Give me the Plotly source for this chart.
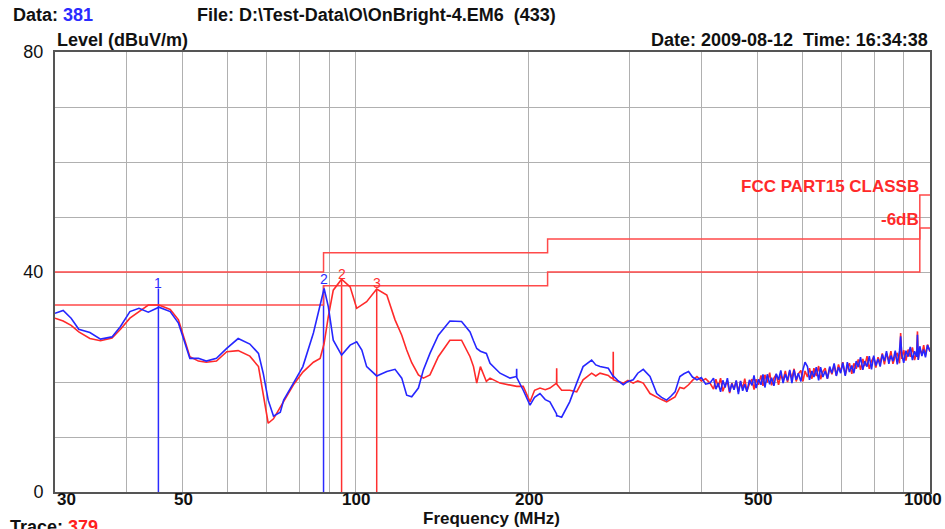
import math
import plotly.graph_objects as go

# ---------------- data ----------------
freq_lo = [30, 31, 32, 33, 34.5, 36, 37.7, 39, 40.5, 42, 43.6, 45.5, 47.6, 49.2, 50.2, 51.5,
           53.3, 55, 57.3, 59.7, 62.5, 65.5, 67.8, 69.1, 70.5, 72, 74, 75, 78, 81, 84.5, 86.8,
           88.2, 89.7, 91.5, 94.6, 97.9, 100.5, 102.6, 104.6, 108.9, 113.4, 117.2, 120.4,
           122.8, 125.3, 128.7, 131.3, 134.8, 139.4, 146, 153, 158.3, 160.5, 162.6, 165,
           169, 171.5, 178.5, 185.8, 190.7, 190.8, 190.9, 195.9, 201.3, 205, 209.5, 214,
           218, 223.9, 224, 224.1, 228.5, 236, 242.7, 249, 257.7, 262, 266.5, 275.5, 278,
           280.9, 281, 281.1, 286, 292.5, 298, 304.4, 310, 316.9, 325.6, 334.5, 341, 348,
           354, 360, 367, 373, 380, 386, 393, 400, 407, 414]

blue_lo = [32.5, 33.0, 31.6, 29.6, 29.0, 27.8, 28.2, 30.1, 32.8, 33.4, 32.7, 33.6, 32.8, 30.7,
           27.9, 24.3, 24.3, 23.8, 24.3, 26.1, 27.9, 26.9, 25.2, 21.6, 16.7, 13.8, 14.5, 16.7,
           19.8, 22.8, 28.9, 33.7, 37.0, 33.7, 27.6, 24.9, 26.7, 27.3, 25.8, 22.8, 21.1,
           21.9, 22.3, 20.7, 17.6, 17.3, 18.9, 22.2, 25.2, 28.5, 31.1, 31.0, 29.1, 27.5,
           26.1, 25.6, 25.2, 23.4, 21.6, 20.7, 21.0, 22.4, 20.8, 18.5, 15.8, 17.2, 17.9,
           16.8, 16.4, 14.2, 13.7, 13.9, 13.6, 16.4, 19.8, 22.8, 24.0, 23.1, 22.8, 22.5,
           21.8, 21.2, 21.0, 21.1, 20.3, 19.5, 20.1, 20.4, 21.6, 22.3, 21.0, 17.9, 17.2,
           16.7, 17.4, 18.2, 21.0, 21.5, 21.9, 20.9, 20.4, 20.8, 19.6, 19.8]

red_lo = [31.6, 31.1, 30.3, 29.1, 27.9, 27.5, 28.0, 29.6, 31.6, 32.8, 34.0, 34.0, 33.2, 31.3,
          28.5, 24.6, 23.8, 23.6, 23.8, 25.5, 25.7, 24.7, 22.8, 17.9, 12.5, 13.3, 15.5, 16.5,
          19.5, 21.8, 23.6, 24.3, 27.0, 31.9, 36.7, 38.7, 37.3, 33.4, 34.0, 34.6, 36.9,
          35.8, 31.3, 28.5, 25.8, 23.5, 21.3, 20.7, 21.3, 24.6, 27.6, 27.6, 24.6, 22.8,
          19.8, 22.8, 20.1, 20.7, 19.8, 19.5, 19.2, 19.2, 19.2, 19.2, 16.4, 18.5, 18.9,
          18.6, 18.9, 19.8, 22.5, 19.6, 18.5, 18.5, 18.2, 20.4, 21.6, 21.1, 21.6, 21.2,
          20.8, 20.6, 25.5, 20.4, 20.1, 19.8, 20.3, 19.8, 20.2, 19.8, 17.9, 17.2, 16.8,
          16.4, 16.9, 17.3, 19.0, 18.8, 19.5, 20.3, 21.0, 20.2, 20.6, 19.8]

freq_hi = [420, 424, 428, 432, 436, 440, 444, 448, 452, 456, 460, 464, 468, 472, 476, 480,
           485, 490, 494, 498, 503, 508, 512, 516, 521, 526, 530, 535, 540, 545, 550, 555,
           560, 565, 570, 575, 580, 585, 590, 596, 601, 606, 612, 617, 623, 628, 634, 640,
           645, 651, 657, 663, 669, 675, 681, 687, 693, 699, 705, 712, 718, 724, 731, 737,
           744, 750, 757, 764, 770, 777, 784, 791, 798, 805, 812, 819, 826, 833, 840, 848,
           855, 862, 870, 877, 885, 889, 893, 900, 908, 916, 924, 932, 940, 948, 951, 954,
           960, 968, 975, 982, 990, 1000]

blue_hi = [20.7, 18.7, 19.8, 18.2, 20.3, 19.0, 20.7, 18.2, 19.7, 18.6, 20.3, 17.8, 20.2, 18.4,
           19.6, 18.2, 20.4, 19.4, 21.2, 18.9, 20.5, 19.5, 21.4, 19.0, 21.4, 19.6, 20.8, 19.3,
           21.5, 20.4, 22.1, 19.8, 21.4, 20.3, 22.2, 19.8, 22.2, 20.4, 21.6, 20.1, 22.2, 23.6,
           22.8, 20.4, 22.0, 20.9, 22.7, 20.3, 22.7, 20.9, 22.0, 20.6, 22.8, 21.6, 23.4, 21.1,
           22.7, 21.6, 23.5, 21.1, 23.6, 21.8, 23.0, 21.6, 23.8, 22.7, 24.5, 22.2, 23.8, 22.8,
           24.7, 22.3, 24.8, 23.0, 24.2, 22.8, 25.0, 23.8, 25.6, 23.3, 24.8, 23.8, 25.7, 23.2,
           25.7, 28.3, 25.0, 23.5, 25.7, 24.6, 26.4, 24.0, 25.6, 24.6, 28.6, 24.0, 26.5, 24.7,
           25.9, 24.5, 26.7, 25.6]

red_hi = [18.7, 20.5, 19.1, 20.7, 18.3, 19.5, 20.1, 18.0, 19.8, 18.7, 20.2, 18.2, 20.1, 18.8,
          20.6, 18.3, 19.7, 20.5, 18.6, 20.5, 19.5, 21.2, 19.3, 21.3, 19.9, 21.7, 19.4, 20.7,
          21.4, 19.5, 21.3, 20.3, 22.0, 20.0, 22.0, 20.7, 22.4, 20.1, 21.5, 22.1, 20.1, 22.0,
          20.9, 22.5, 20.6, 22.5, 21.1, 22.9, 20.5, 21.9, 22.5, 20.6, 22.5, 21.4, 23.1, 21.2,
          23.2, 21.8, 23.6, 21.3, 22.7, 23.4, 21.5, 23.4, 22.4, 24.1, 22.2, 24.2, 22.9, 24.7,
          22.4, 23.8, 24.5, 22.6, 24.5, 23.5, 25.2, 23.2, 25.2, 23.9, 25.6, 23.3, 24.7, 25.3,
          23.4, 28.9, 24.2, 25.8, 23.9, 25.9, 24.6, 26.3, 24.0, 25.4, 29.2, 24.1, 26.0, 25.0,
          26.7, 24.8, 26.8, 25.5]

limit_freq = [30, 88, 216, 960, 1000]
limit_level = [40, 43.5, 46, 54, 54]
margin_level = [34, 37.5, 40, 48, 48]

marker_freq = [45.4, 88.0, 94.6, 108.9]
marker_level = [37.0, 37.6, 38.6, 36.9]
marker_label = ["1", "2", "2", "3"]
marker_color = ["#2b2bff", "#2b2bff", "#ff3030", "#ff3030"]

x_tickvals = [30, 40, 50, 60, 70, 80, 90, 100, 200, 300, 400, 500, 600, 700, 800, 900, 1000]
x_ticktext = ["30", "", "50", "", "", "", "", "100", "200", "", "", "500", "", "", "", "", "1000"]
y_tickvals = [0, 10, 20, 30, 40, 50, 60, 70, 80]
y_ticktext = ["0", "", "", "", "40", "", "", "", "80"]

RED = "#ff2a2a"
BLUE = "#2626ff"
FONT = "Liberation Sans, Arial, sans-serif"
INK = "#111111"

fig = go.Figure()

# marker lines
for f, lv, c in zip(marker_freq, marker_level, marker_color):
    fig.add_trace(go.Scatter(x=[f, f], y=[0, lv], mode="lines",
                             line=dict(color=c, width=1.5), hoverinfo="skip"))

# limit lines
fig.add_trace(go.Scatter(x=limit_freq, y=limit_level, mode="lines", line_shape="hv",
                         line=dict(color="#ff4a4a", width=1.5), hoverinfo="skip"))
fig.add_trace(go.Scatter(x=limit_freq, y=margin_level, mode="lines", line_shape="hv",
                         line=dict(color="#ff4a4a", width=1.5), hoverinfo="skip"))

# traces
fig.add_trace(go.Scatter(x=freq_lo + freq_hi, y=red_lo + red_hi, mode="lines",
                         line=dict(color=RED, width=1.6), name="Trace 379"))
fig.add_trace(go.Scatter(x=freq_lo + freq_hi, y=blue_lo + blue_hi, mode="lines",
                         line=dict(color=BLUE, width=1.6), name="Data 381"))

# marker labels (annotation x on a log axis is given in log10 units)
for f, lv, lab, c in zip(marker_freq, marker_level, marker_label, marker_color):
    fig.add_annotation(x=math.log10(f), y=lv, xref="x", yref="y", text=lab, showarrow=False,
                       yanchor="bottom", yshift=-4,
                       font=dict(family=FONT, size=14, color=c))

# x tick labels (drawn as annotations so the end labels can sit inside the frame)
n = len(x_tickvals)
for i, (v, t) in enumerate(zip(x_tickvals, x_ticktext)):
    if not t:
        continue
    shift = 11 if i == 0 else (-7 if i == n - 1 else 1)
    fig.add_annotation(x=math.log10(v), y=-0.0165, xref="x", yref="paper", text="<b>%s</b>" % t,
                       showarrow=False, xanchor="center", yanchor="middle", xshift=shift,
                       font=dict(family=FONT, size=17, color=INK))

ann = [
    dict(x=-0.0503, y=1.084, text="<b>Data: <span style='color:#2b2bff'>381</span></b>", xanchor="left", size=18),
    dict(x=0.160, y=1.084, text="<b>File: D:\\Test-Data\\O\\OnBright-4.EM6  (433)</b>", xanchor="left", size=18),
    dict(x=0.000, y=1.027, text="<b>Level (dBuV/m)</b>", xanchor="left", size=18),
    dict(x=1.000, y=1.027, text="<b>Date: 2009-08-12  Time: 16:34:38</b>", xanchor="right", size=18),
    dict(x=0.4994, y=-0.0595, text="<b>Frequency (MHz)</b>", xanchor="center", size=17),
    dict(x=-0.0535, y=-0.079, text="<b>Trace: <span style='color:#ff2020'>379</span></b>", xanchor="left", size=18),
]
for a in ann:
    size = a.pop("size")
    fig.add_annotation(xref="paper", yref="paper", showarrow=False, yanchor="middle",
                       font=dict(family=FONT, size=size, color=INK), **a)

fig.add_annotation(xref="paper", yref="y", x=0.990, y=55.6, text="<b>FCC PART15 CLASSB</b>",
                   showarrow=False, xanchor="right", yanchor="middle",
                   font=dict(family=FONT, size=17, color=RED))
fig.add_annotation(xref="paper", yref="y", x=0.990, y=49.5, text="<b>-6dB</b>",
                   showarrow=False, xanchor="right", yanchor="middle",
                   font=dict(family=FONT, size=17, color=RED))

fig.update_layout(
    width=945, height=529,
    margin=dict(l=55, r=15, t=52, b=37),
    paper_bgcolor="white", plot_bgcolor="white",
    showlegend=False,
    font=dict(family=FONT, size=18, color=INK),
)
fig.update_xaxes(type="log", range=[1.4771, 3.0], tickvals=x_tickvals, ticktext=x_ticktext,
                 showticklabels=False, automargin=False,
                 showgrid=True, gridcolor="#b0b0b0", gridwidth=1.3,
                 showline=True, linecolor="#555555", linewidth=2, mirror=True,
                 ticks="", zeroline=False)
fig.update_yaxes(range=[0, 80], tickvals=y_tickvals, ticktext=y_ticktext, automargin=False,
                 showgrid=True, gridcolor="#b0b0b0", gridwidth=1.3,
                 showline=True, linecolor="#555555", linewidth=2, mirror=True,
                 ticks="", tickfont=dict(family=FONT, size=18, color=INK),
                 ticklabelstandoff=6, zeroline=False)

fig.write_html("out.html", config={"displayModeBar": False},
               post_script="document.body.style.margin='0';")
